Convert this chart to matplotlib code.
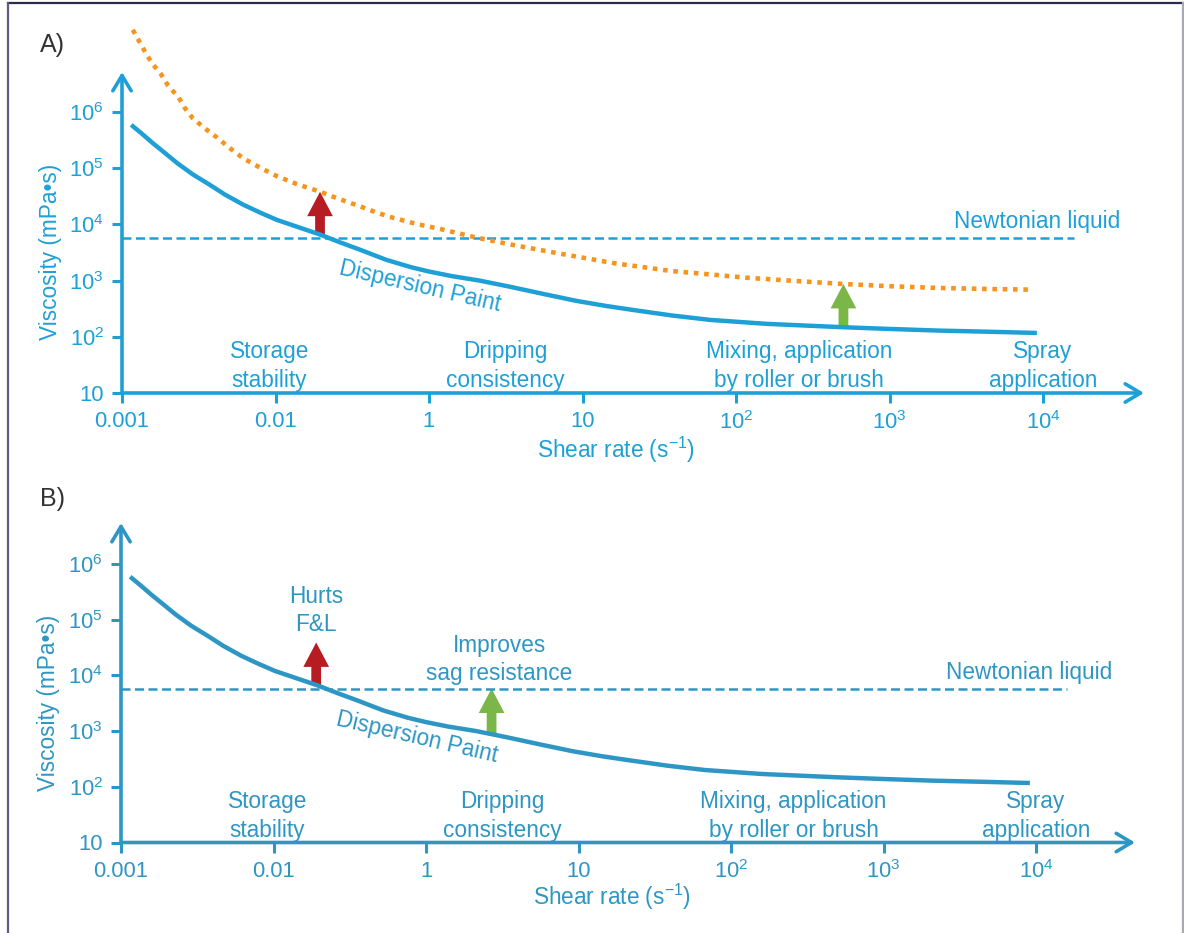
import numpy as np
import matplotlib
matplotlib.use("Agg")
import matplotlib.pyplot as plt
from matplotlib.lines import Line2D
from matplotlib.ticker import NullLocator

# DATA

# shear-rate axis: equally spaced slots, labelled as on a rheology sketch
shear_ticks = [0, 1, 2, 3, 4, 5, 6]
shear_labels = ['0.001', '0.01', '1', '10', r'$10^2$', r'$10^3$', r'$10^4$']

visc_ticks = [1e1, 1e2, 1e3, 1e4, 1e5, 1e6]
visc_labels = ['10', r'$10^2$', r'$10^3$', r'$10^4$', r'$10^5$', r'$10^6$']

# dispersion paint flow curve (slot position, viscosity in mPa*s)
paint_pos = [0.06, 0.13, 0.20, 0.28, 0.36, 0.46, 0.57, 0.67, 0.79, 0.90,
             1.01, 1.15, 1.29, 1.42, 1.55, 1.72, 1.88, 2.00, 2.15, 2.33,
             2.53, 2.75, 2.96, 3.15, 3.33, 3.58, 3.83, 4.20, 4.70, 5.00,
             5.32, 5.65, 5.96]
paint_visc = [5.9e5, 4.1e5, 2.8e5, 1.86e5, 1.23e5, 7.8e4, 5.1e4, 3.4e4, 2.24e4, 1.62e4,
              1.2e4, 8900, 6600, 4800, 3550, 2350, 1740, 1450, 1200, 1000,
              775, 575, 436, 355, 300, 240, 200, 170, 148, 138,
              129, 123, 117]

# thickened paint (dotted curve, panel A only)
thick_pos = [0.07, 0.12, 0.16, 0.20, 0.25, 0.30, 0.37, 0.41, 0.46, 0.54,
             0.62, 0.70, 0.79, 0.90, 1.01, 1.14, 1.28, 1.42, 1.55, 1.66,
             1.77, 1.93, 2.09, 2.30, 2.53, 2.83, 3.20, 3.58, 4.08, 4.40,
             4.70, 5.00, 5.32, 5.63, 5.93]
thick_visc = [2.9e7, 1.66e7, 1.05e7, 7.1e6, 4.9e6, 2.95e6, 1.8e6, 1.17e6, 7.8e5, 5.1e5,
              3.5e5, 2.3e5, 1.5e5, 1.02e5, 7.2e4, 5.2e4, 3.9e4, 2.8e4, 2.1e4, 1.62e4,
              1.3e4, 1.0e4, 8100, 5900, 4400, 3100, 2050, 1480, 1120, 980,
              870, 795, 740, 710, 690]

newtonian_visc = 5800
newtonian_end = 6.2

regions = ['Storage\nstability', 'Dripping\nconsistency',
           'Mixing, application\nby roller or brush', 'Spray\napplication']
region_pos = [0.96, 2.5, 4.41, 6.0]
region_visc = 30

# arrow positions along the shear axis
red_pos_a, green_pos_a = 1.29, 4.70
red_pos_b, green_pos_b = 1.28, 2.43

# STYLE

W, H = 1184, 933
blue_a = '#1ea0d7'
blue_b = '#2e96c4'
orange = '#f7941d'
red = '#b71c23'
green = '#7ab648'
fs = 16.3
fs_tick = 15.8

plt.rcParams['font.family'] = ['Liberation Sans', 'DejaVu Sans']
plt.rcParams['mathtext.fontset'] = 'custom'
plt.rcParams['mathtext.rm'] = 'Liberation Sans'
plt.rcParams['mathtext.it'] = 'Liberation Sans:italic'
plt.rcParams['mathtext.default'] = 'regular'

fig = plt.figure(figsize=(W / 100, H / 100), dpi=100)


def fpos(x, y):
    # pixel position -> figure fraction
    return x / W, 1 - y / H


def visc_at(pos, xs, ys):
    return 10 ** np.interp(pos, xs, np.log10(ys))


def block_arrow(ax, pos, base, tip, colour):
    ax.annotate('', xy=(pos, tip), xytext=(pos, base),
                arrowprops=dict(arrowstyle='simple,head_length=0.95,head_width=1.0,tail_width=0.38',
                                mutation_scale=18.5, fc=colour, ec='none',
                                shrinkA=0, shrinkB=0), zorder=2)


def setup_panel(rect, xmax, ytop, colour):
    ax = fig.add_axes(rect)
    ax.set_xlim(0, xmax)
    ax.set_yscale('log')
    ax.set_ylim(10, 10 ** ytop)
    for s in ax.spines.values():
        s.set_visible(False)
    ax.set_xticks(shear_ticks)
    ax.set_xticklabels(shear_labels)
    ax.set_yticks(visc_ticks)
    ax.set_yticklabels(visc_labels)
    ax.yaxis.set_minor_locator(NullLocator())
    ax.tick_params(direction='out', length=7, width=2.2, colors=colour,
                   labelsize=fs_tick, pad=6)
    arrow = dict(arrowstyle='->,head_length=0.5,head_width=0.3', lw=2.6,
                 color=colour, shrinkA=0, shrinkB=0, mutation_scale=22)
    ax.annotate('', xy=(1, 0), xytext=(0, 0), xycoords='axes fraction', arrowprops=arrow)
    ax.annotate('', xy=(0, 1), xytext=(0, 0), xycoords='axes fraction', arrowprops=arrow)
    ax.patch.set_alpha(0)

    # Newtonian reference line and the paint curve
    ax.plot([0, newtonian_end], [newtonian_visc, newtonian_visc], color=colour,
            lw=1.8, dashes=(3.6, 1.8), zorder=3)
    ax.text(6.5, newtonian_visc * 10 ** 0.29, 'Newtonian liquid', color=colour,
            fontsize=fs, ha='right', va='center')
    ax.plot(paint_pos, paint_visc, color=colour, lw=3.2, zorder=4,
            solid_capstyle='butt', solid_joinstyle='round', clip_on=False)
    ax.text(1.94, 10 ** 2.89, 'Dispersion Paint', color=colour, fontsize=fs,
            rotation=-13, rotation_mode='anchor', ha='center', va='center')
    for lab, p in zip(regions, region_pos):
        ax.text(p, region_visc, lab, color=colour, fontsize=fs, ha='center',
                va='center', linespacing=1.3)
    return ax


# PANEL A

axA = setup_panel([122 / W, 1 - 393 / H, (1144 - 122) / W, (393 - 72) / H],
                  (1144 - 122) / 153.5, 1 + (393 - 72) / 56.2, blue_a)
axA.plot(thick_pos, thick_visc, color=orange, lw=3.3, dashes=(1, 1.25),
         zorder=3, clip_on=False)
block_arrow(axA, red_pos_a, visc_at(red_pos_a, paint_pos, paint_visc),
            visc_at(red_pos_a, thick_pos, thick_visc), red)
block_arrow(axA, green_pos_a, visc_at(green_pos_a, paint_pos, paint_visc),
            visc_at(green_pos_a, thick_pos, thick_visc), green)

# PANEL B

axB = setup_panel([121 / W, 1 - 842.5 / H, (1135 - 121) / W, (842.5 - 523) / H],
                  (1135 - 121) / 152.5, 1 + (842.5 - 523) / 55.7, blue_b)
block_arrow(axB, red_pos_b, visc_at(red_pos_b, paint_pos, paint_visc),
            visc_at(red_pos_b, thick_pos, thick_visc), red)
block_arrow(axB, green_pos_b, visc_at(green_pos_b, paint_pos, paint_visc),
            newtonian_visc, green)
axB.text(red_pos_b, 10 ** 5.16, 'Hurts\nF&L', color=blue_b, fontsize=fs,
         ha='center', va='center', linespacing=1.3)
axB.text(2.48, 10 ** 4.29, 'Improves\nsag resistance', color=blue_b, fontsize=fs,
         ha='center', va='center', linespacing=1.3)

# labels outside the axes
for (x, y), t in [((40, 45), 'A)'), ((40, 499), 'B)')]:
    fig.text(*fpos(x, y), t, color='#333333', fontsize=18, ha='left', va='center')
for (x, y), c in [((51, 252), blue_a), ((49, 703), blue_b)]:
    fig.text(*fpos(x, y), 'Viscosity (mPa•s)', color=c, fontsize=fs,
             rotation=90, ha='center', va='center')
for (x, y), c in [((616, 450), blue_a), ((612, 897), blue_b)]:
    fig.text(*fpos(x, y), r'Shear rate (s$^{-1}$)', color=c, fontsize=fs,
             ha='center', va='center')

# frame around the figure
for (x0, y0), (x1, y1), c in [((8, 3), (1183, 3), '#2a2a4a'),
                              ((8, 3), (8, 933), '#5c5c80'),
                              ((1183, 3), (1183, 933), '#a8a8b8')]:
    fig.add_artist(Line2D([x0 / W, x1 / W], [1 - y0 / H, 1 - y1 / H],
                          color=c, lw=1.6, transform=fig.transFigure))

fig.savefig('out.png', dpi=100)
